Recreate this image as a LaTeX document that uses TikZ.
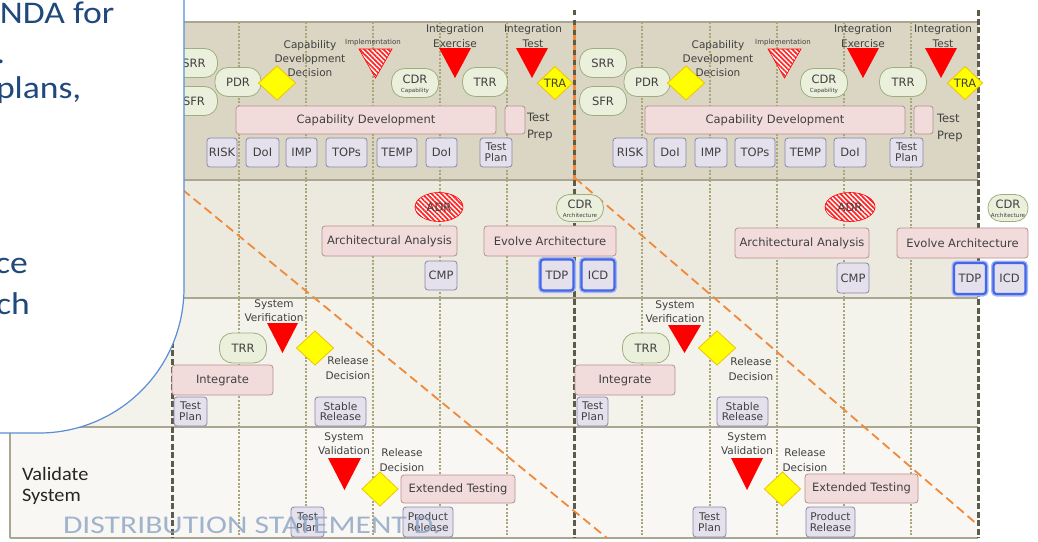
\documentclass[tikz,border=0pt]{standalone}
\usepackage{fontspec}
\setmainfont{DejaVu Sans}
\newfontfamily\slidefont{Carlito}
\usetikzlibrary{shapes.geometric,patterns.meta}

\definecolor{rowA}{HTML}{DAD6C3}
\definecolor{rowB}{HTML}{ECEADF}
\definecolor{rowC}{HTML}{F3F2EB}
\definecolor{rowD}{HTML}{F8F7F3}
\definecolor{gridline}{HTML}{A9A692}
\definecolor{dotline}{HTML}{ABA57A}
\definecolor{milestone}{HTML}{5C5B4C}
\definecolor{diag}{HTML}{F08A3A}
\definecolor{ovalfill}{HTML}{EBF0DD}
\definecolor{ovaldraw}{HTML}{9CB07C}
\definecolor{actfill}{HTML}{F2DCDB}
\definecolor{actdraw}{HTML}{B89090}
\definecolor{docfill}{HTML}{E4E0EC}
\definecolor{docdraw}{HTML}{8C86AA}
\definecolor{gate}{HTML}{FFFF00}
\definecolor{gatedraw}{HTML}{F2C200}
\definecolor{review}{HTML}{FF0000}
\definecolor{keydoc}{HTML}{4466E8}
\definecolor{keyglow}{HTML}{A8B8F2}
\definecolor{ink}{HTML}{404040}
\definecolor{slideblue}{HTML}{1F497D}
\definecolor{calloutline}{HTML}{5B8ED6}
\definecolor{stamp}{HTML}{8AA3C4}

\newcommand{\dgLab}{\fontsize{10.5}{14.3}\selectfont}
\newcommand{\dgBox}{\fontsize{11.5}{11}\selectfont}
\newcommand{\dgTwo}{\fontsize{10.6}{10.8}\selectfont}
\newcommand{\dgMini}{\fontsize{5.6}{6}\selectfont}
\newcommand{\dgImpl}{\fontsize{7}{8}\selectfont}
\newcommand{\dgSlide}{\slidefont\fontsize{31.5}{31.5}\selectfont}

\tikzset{
  every node/.style={inner sep=0pt, outer sep=0pt, text=ink},
  oval/.style={draw=ovaldraw, fill=ovalfill, line width=0.8pt, rounded corners=13pt, font=\dgBox},
  act/.style={draw=actdraw, fill=actfill, line width=0.8pt, rounded corners=3pt, font=\dgBox},
  doc/.style={draw=docdraw, fill=docfill, line width=0.8pt, rounded corners=3pt, font=\dgBox, align=center},
  doctwo/.style={doc, font=\dgTwo},
  keybox/.style={doc, draw=keydoc, line width=2.2pt, preaction={draw=keyglow, line width=5pt}},
  gatebox/.style={diamond, draw=gatedraw, fill=gate, line width=0.8pt},
  lab/.style={font=\dgLab, align=center},
  hatch/.style={preaction={fill=white}, pattern={Lines[angle=-45,distance=3.4pt,line width=1.7pt]}, pattern color=review!85},
  revtri/.style={fill=review},
  dotv/.style={draw=dotline, line width=2pt, dash pattern=on 2pt off 1.6pt},
  milev/.style={draw=milestone, line width=3pt, dash pattern=on 6pt off 2.5pt},
  diagline/.style={draw=diag, line width=1.8pt, dash pattern=on 9pt off 5pt},
  hline/.style={draw=gridline, line width=1.2pt},
}

\begin{document}
\begin{tikzpicture}[x=1pt,y=-1pt]
\clip (0,0) rectangle (1038,541);
\fill[white] (0,0) rectangle (1038,541);

% swim lane backgrounds
\fill[rowA] (10,22) rectangle (978,180);
\fill[rowB] (10,180) rectangle (978,298);
\fill[rowC] (10,298) rectangle (978,427);
\fill[rowD] (10,427) rectangle (978,538);

% sprint dividers
\foreach \x in {239,306,373,440,507,642,710,777,844,911}
  \draw[dotv] (\x,22) -- (\x,538);
\foreach \y in {22,180,298,427,538}
  \draw[hline] (10,\y) -- (978,\y);
\draw[hline] (10,22) -- (10,538);

% release boundaries
\draw[milev] (172,10) -- (172,538);
\draw[draw=diag, line width=3pt] (574,22) -- (574,180);
\draw[milev, dash pattern=on 5pt off 5pt] (574,10) -- (574,180);
\draw[milev] (574,180) -- (574,538);
\draw[milev] (978,10) -- (978,538);

% wave fronts
\draw[diagline] (172,181) -- (607,538);
\draw[diagline] (575,178) -- (978,525);

% ---------- lane 1, first release ----------
\node[oval, minimum width=47, minimum height=29] (srrL) at (194,63) {SRR};
\node[oval, minimum width=47, minimum height=29] (sfrL) at (194,101) {SFR};
\node[oval, minimum width=46, minimum height=29] (pdrL) at (238,82) {PDR};
\node[gatebox, minimum width=37, minimum height=34] (cdgL) at (277,83) {};
\node[lab] (cdtL) at (310,58.5) {Capability\\Development\\Decision};
\node[font=\dgImpl] (implL) at (373,43) {Implementation};
\draw[hatch, draw=review, line width=0.6pt] (359,49) -- (392,49) -- (375.5,78) -- cycle;
\node[oval, minimum width=47, minimum height=29] (cdrL) at (415,83) {};
\node[font=\dgBox] (cdrLt) at (415,79) {CDR};
\node[font=\dgMini] (cdrLs) at (415,91) {Capability};
\node[lab] (ieL) at (455,36) {Integration\\Exercise};
\fill[revtri] (439,48) -- (471,48) -- (455,78) -- cycle;
\node[oval, minimum width=45, minimum height=29] (trrL) at (485,82) {TRR};
\node[lab] (itL) at (533,36) {Integration\\Test};
\fill[revtri] (516,48) -- (548,48) -- (532,78) -- cycle;
\node[gatebox, minimum width=35, minimum height=33] (traL) at (555,83) {};
\node[font=\dgBox] (traLt) at (555,83) {TRA};
\node[act, minimum width=260, minimum height=28] (capL) at (366,120) {Capability Development};
\node[act, minimum width=20, minimum height=28] (prepL) at (515,120) {};
\node[font=\fontsize{11.5}{17}\selectfont, align=left, anchor=west] (prepLt) at (527,127) {Test\\Prep};
\node[doc, minimum width=30, minimum height=29] (riskL) at (222,152.5) {RISK};
\node[doc, minimum width=33, minimum height=29] (doiL) at (262.5,152.5) {DoI};
\node[doc, minimum width=31, minimum height=29] (impL) at (301.5,152.5) {IMP};
\node[doc, minimum width=41, minimum height=29] (topsL) at (346.5,152.5) {TOPs};
\node[doc, minimum width=40, minimum height=29] (tempL) at (397,152.5) {TEMP};
\node[doc, minimum width=31, minimum height=29] (doibL) at (441.5,152.5) {DoI};
\node[doctwo, minimum width=32, minimum height=29] (tplanL) at (496,152.5) {Test\\Plan};

% ---------- lane 1, second release ----------
\node[oval, minimum width=47, minimum height=29] (srrR) at (603,63) {SRR};
\node[oval, minimum width=47, minimum height=29] (sfrR) at (603,101) {SFR};
\node[oval, minimum width=46, minimum height=29] (pdrR) at (647,82) {PDR};
\node[gatebox, minimum width=37, minimum height=34] (cdgR) at (686,83) {};
\node[lab] (cdtR) at (718,58.5) {Capability\\Development\\Decision};
\node[font=\dgImpl] (implR) at (783,43) {Implementation};
\draw[hatch, draw=review, line width=0.6pt] (768,49) -- (801,49) -- (784.5,78) -- cycle;
\node[oval, minimum width=47, minimum height=29] (cdrR) at (824,83) {};
\node[font=\dgBox] (cdrRt) at (824,79) {CDR};
\node[font=\dgMini] (cdrRs) at (824,91) {Capability};
\node[lab] (ieR) at (863,36) {Integration\\Exercise};
\fill[revtri] (847,48) -- (879,48) -- (863,78) -- cycle;
\node[oval, minimum width=47, minimum height=29] (trrR) at (903,82) {TRR};
\node[lab] (itR) at (943,36) {Integration\\Test};
\fill[revtri] (925,48) -- (957,48) -- (941,78) -- cycle;
\node[gatebox, minimum width=35, minimum height=33] (traR) at (965,83) {};
\node[font=\dgBox] (traRt) at (965,83) {TRA};
\node[act, minimum width=260, minimum height=28] (capR) at (775,120) {Capability Development};
\node[act, minimum width=19, minimum height=28] (prepR) at (923.5,120) {};
\node[font=\fontsize{11.5}{17}\selectfont, align=left, anchor=west] (prepRt) at (937,128) {Test\\Prep};
\node[doc, minimum width=34, minimum height=29] (riskR) at (630,152.5) {RISK};
\node[doc, minimum width=32, minimum height=29] (doiR) at (670,152.5) {DoI};
\node[doc, minimum width=32, minimum height=29] (impR) at (711,152.5) {IMP};
\node[doc, minimum width=40, minimum height=29] (topsR) at (755,152.5) {TOPs};
\node[doc, minimum width=41, minimum height=29] (tempR) at (805.5,152.5) {TEMP};
\node[doc, minimum width=32, minimum height=29] (doibR) at (850,152.5) {DoI};
\node[doctwo, minimum width=33, minimum height=29] (tplanR) at (906.5,152.5) {Test\\Plan};

% ---------- lane 2 ----------
\node[ellipse, hatch, draw=review, line width=0.6pt, minimum width=48, minimum height=29, font=\dgBox] (adrL) at (439,207) {ADR};
\node[ellipse, hatch, draw=review, line width=0.6pt, minimum width=50, minimum height=29, font=\dgBox] (adrR) at (850,207) {ADR};
\node[oval, minimum width=47, minimum height=27] (cdraL) at (580,208) {};
\node[font=\dgBox] (cdraLt) at (580,204) {CDR};
\node[font=\dgMini] (cdraLs) at (580,215.5) {Architecture};
\node[oval, minimum width=40, minimum height=27] (cdraR) at (1008,208) {};
\node[font=\dgBox] (cdraRt) at (1008,204) {CDR};
\node[font=\dgMini] (cdraRs) at (1008,215.5) {Architecture};
\node[act, minimum width=135, minimum height=30] (archL) at (389.5,241) {Architectural Analysis};
\node[act, minimum width=134, minimum height=30] (archR) at (802,243) {Architectural Analysis};
\node[act, minimum width=132, minimum height=30] (evoL) at (550,241) {Evolve Architecture};
\node[act, minimum width=131, minimum height=30] (evoR) at (962.5,243) {Evolve Architecture};
\node[doc, minimum width=32, minimum height=29] (cmpL) at (441,275.5) {CMP};
\node[doc, minimum width=32, minimum height=30] (cmpR) at (853,278) {CMP};
\node[keybox, minimum width=33, minimum height=31] (tdpL) at (557,275) {TDP};
\node[keybox, minimum width=33, minimum height=31] (icdL) at (598,275) {ICD};
\node[keybox, minimum width=32, minimum height=31] (tdpR) at (970,278.5) {TDP};
\node[keybox, minimum width=32, minimum height=31] (icdR) at (1009.5,278.5) {ICD};

% ---------- lane 3 ----------
\node[lab] (svL) at (274,311) {System\\Verification};
\node[lab] (svR) at (675,312) {System\\Verification};
\fill[revtri] (267,323) -- (298,323) -- (282.5,353) -- cycle;
\fill[revtri] (668,325) -- (701,325) -- (684.5,353) -- cycle;
\node[gatebox, minimum width=37, minimum height=34] (rdgL) at (315,348) {};
\node[gatebox, minimum width=37, minimum height=34] (rdgR) at (717,348) {};
\node[lab] (rdtL) at (348,368) {Release\\Decision};
\node[lab] (rdtR) at (751,369) {Release\\Decision};
\node[oval, minimum width=47, minimum height=30] (trr3L) at (243,348) {TRR};
\node[oval, minimum width=47, minimum height=30] (trr3R) at (646,348) {TRR};
\node[act, minimum width=101, minimum height=30] (intL) at (222.5,380) {Integrate};
\node[act, minimum width=100, minimum height=30] (intR) at (625,380) {Integrate};
\node[doctwo, minimum width=33, minimum height=29] (tp3L) at (190.5,411.5) {Test\\Plan};
\node[doctwo, minimum width=31, minimum height=29] (tp3R) at (592.5,411.5) {Test\\Plan};
\node[doctwo, minimum width=51, minimum height=29] (srL) at (340.5,411.5) {Stable\\Release};
\node[doctwo, minimum width=51, minimum height=29] (srR) at (742.5,411.5) {Stable\\Release};

% ---------- lane 4 ----------
\node[anchor=base west, text=black!85, font=\slidefont\fontsize{19}{19}\selectfont] (valA) at (22,480) {\scalebox{1.07}[1]{Validate}};
\node[anchor=base west, text=black!85, font=\slidefont\fontsize{19}{19}\selectfont] (valB) at (22,501) {\scalebox{1.07}[1]{System}};
\node[lab] (svaL) at (344,444) {System\\Validation};
\node[lab] (svaR) at (747,444) {System\\Validation};
\fill[revtri] (328,458) -- (361,458) -- (344.5,490) -- cycle;
\fill[revtri] (731,458) -- (763,458) -- (747,490) -- cycle;
\node[lab] (rd4tL) at (402,460) {Release\\Decision};
\node[lab] (rd4tR) at (805,460) {Release\\Decision};
\node[gatebox, minimum width=36, minimum height=34] (rd4gL) at (380,489) {};
\node[gatebox, minimum width=36, minimum height=34] (rd4gR) at (782.5,489) {};
\node[act, minimum width=114, minimum height=28] (extL) at (458,489) {Extended Testing};
\node[act, minimum width=113, minimum height=29] (extR) at (861.5,488.5) {Extended Testing};
\node[doctwo, minimum width=33, minimum height=30] (tp4L) at (307.5,522) {Test\\Plan};
\node[doctwo, minimum width=33, minimum height=30] (tp4R) at (709.5,522) {Test\\Plan};
\node[doctwo, minimum width=50, minimum height=30] (prL) at (428,522) {Product\\Release};
\node[doctwo, minimum width=49, minimum height=30] (prR) at (830.5,522) {Product\\Release};

% ---------- slide callout ----------
\draw[fill=white, draw=calloutline, line width=1.2pt]
  (-20,-20) -- (184,-20) -- (184,288)
  .. controls (184,368.1) and (119.1,433) .. (39,433) -- (-20,433) -- cycle;
\node[anchor=base west, text=slideblue, font=\dgSlide] (cA) at (0,23.5) {\scalebox{1.13}[1]{NDA for}};
\node[anchor=base west, text=slideblue, font=\dgSlide] (cB) at (-4,63) {\scalebox{1.13}[1]{.}};
\node[anchor=base west, text=slideblue, font=\dgSlide] (cC) at (-4,98) {\scalebox{1.13}[1]{plans,}};
\node[anchor=base west, text=slideblue, font=\dgSlide] (cD) at (-5,273) {\scalebox{1.13}[1]{ce}};
\node[anchor=base west, text=slideblue, font=\dgSlide] (cE) at (-4,314) {\scalebox{1.13}[1]{ch}};

% ---------- marking ----------
\node[anchor=base west, text=stamp, opacity=0.8, font=\slidefont\fontsize{25.5}{25.5}\selectfont] (mark) at (63,533) {\scalebox{1.24}[1]{DISTRIBUTION STATEMENT D.}};
\end{tikzpicture}
\end{document}
